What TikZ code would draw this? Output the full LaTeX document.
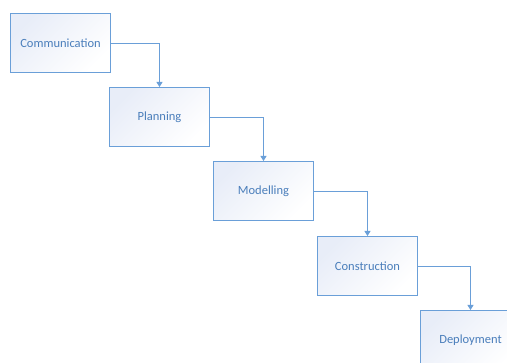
\documentclass[tikz,border=0pt]{standalone}
\usepackage{fontspec}
\setmainfont{Carlito}
\usetikzlibrary{arrows.meta}
\definecolor{edgeblue}{HTML}{6A9FD8}
\definecolor{textblue}{HTML}{4A7EBB}
\definecolor{fillblue}{HTML}{E8EDF8}
\tikzset{
  stage/.style={draw=edgeblue, line width=1pt, minimum width=100pt, minimum height=59pt,
    inner sep=0pt, top color=fillblue, bottom color=white, shading angle=45,
    text=textblue, font=\fontsize{12.5}{14}\selectfont, anchor=north west},
  link/.style={draw=edgeblue, line width=0.9pt, -{Triangle[length=5pt,width=6pt]}}
}
\begin{document}
\begin{tikzpicture}[x=1pt,y=-1pt]
\clip (0,0) rectangle (507,363);
\fill[white] (0,0) rectangle (507,363);
\node[stage] (c) at (10,13) {Communication};
\node[stage] (p) at (109,87) {Planning};
\node[stage] (m) at (213,161) {Modelling};
\node[stage] (k) at (317,236) {Construction};
\node[stage] (d) at (420,310) {Deployment};
\draw[link] (c.east) -| (p.north);
\draw[link] (p.east) -| (m.north);
\draw[link] (m.east) -| (k.north);
\draw[link] (k.east) -| (d.north);
\end{tikzpicture}
\end{document}
